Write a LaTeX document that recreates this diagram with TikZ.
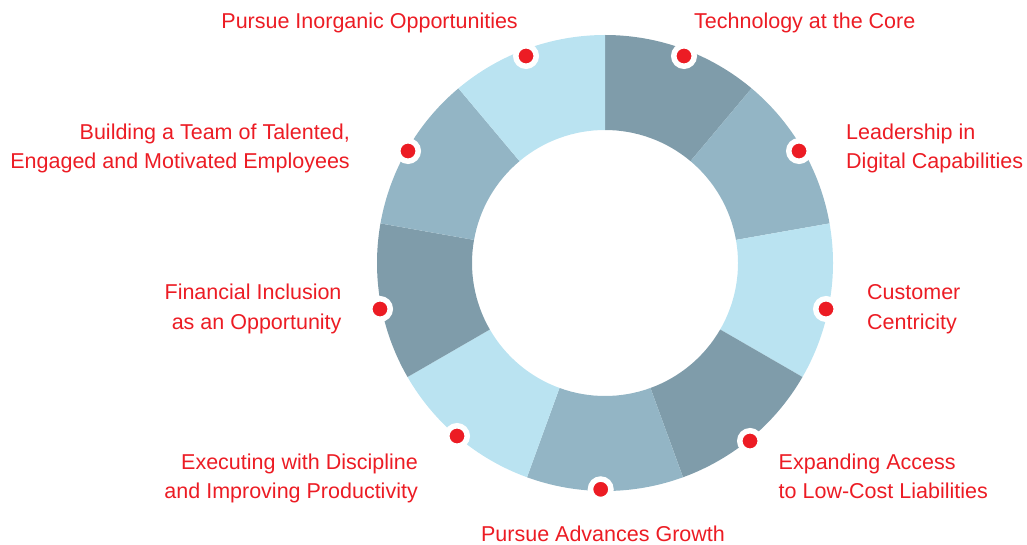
\documentclass[tikz,border=0pt]{standalone}
\usepackage{fontspec}
\setmainfont{Liberation Sans}
\definecolor{segdark}{HTML}{7F9CAA}
\definecolor{segmid}{HTML}{93B5C5}
\definecolor{seglight}{HTML}{BAE3F1}
\definecolor{accent}{HTML}{EC1C24}
\begin{document}
\begin{tikzpicture}[x=1pt,y=1pt,
  lbl/.style={text=accent, font=\fontsize{21.5}{29}\selectfont, inner sep=0pt},
  marker/.style={circle, fill=accent, draw=white, line width=5.5pt,
                 minimum size=20.5pt, inner sep=0pt}]
\useasboundingbox (0,0) rectangle (1027,544);
\coordinate (c) at (605,281);

% ring of nine segments, clockwise from the top
\foreach \a/\col in {90/segdark,50/segmid,10/seglight,-30/segdark,-70/segmid,
                     -110/seglight,-150/segdark,170/segmid,130/seglight} {
  \fill[\col] ([shift={(\a:228)}]c) arc[start angle=\a, delta angle=-40, radius=228]
    -- ([shift={(\a-40:133)}]c) arc[start angle=\a-40, delta angle=40, radius=133] -- cycle;
}

% markers on the outer rim, one per segment
\foreach \n/\p in {1/{(684,488)},2/{(799,393)},3/{(826,235)},4/{(750,103)},
                   5/{(600.7,54.7)},6/{(457,108)},7/{(380,235)},8/{(408,393)},9/{(526,488)}} {
  \node[marker] (m\n) at \p {};
}

% labels (multi-line labels are anchored on their last line)
\node[lbl, anchor=base west] (l1) at (694,515.7) {Technology at the Core};
\node[lbl, anchor=base west, align=left] (l2) at (846,375.7) {Leadership in\\Digital Capabilities};
\node[lbl, anchor=base west, align=left] (l3) at (867,215) {Customer\\Centricity};
\node[lbl, anchor=base west, align=left] (l4) at (778.5,46) {Expanding Access\\to Low-Cost Liabilities};
\node[lbl, anchor=base] (l5) at (603,3) {Pursue Advances Growth};
\node[lbl, anchor=base east, align=right] (l6) at (418,46) {Executing with Discipline\\and Improving Productivity};
\node[lbl, anchor=base east, align=right] (l7) at (341.7,215) {Financial Inclusion\\as an Opportunity};
\node[lbl, anchor=base east, align=right] (l8) at (350,375.7) {Building a Team of Talented,\\Engaged and Motivated Employees};
\node[lbl, anchor=base east] (l9) at (518,515.7) {Pursue Inorganic Opportunities};
\end{tikzpicture}
\end{document}
